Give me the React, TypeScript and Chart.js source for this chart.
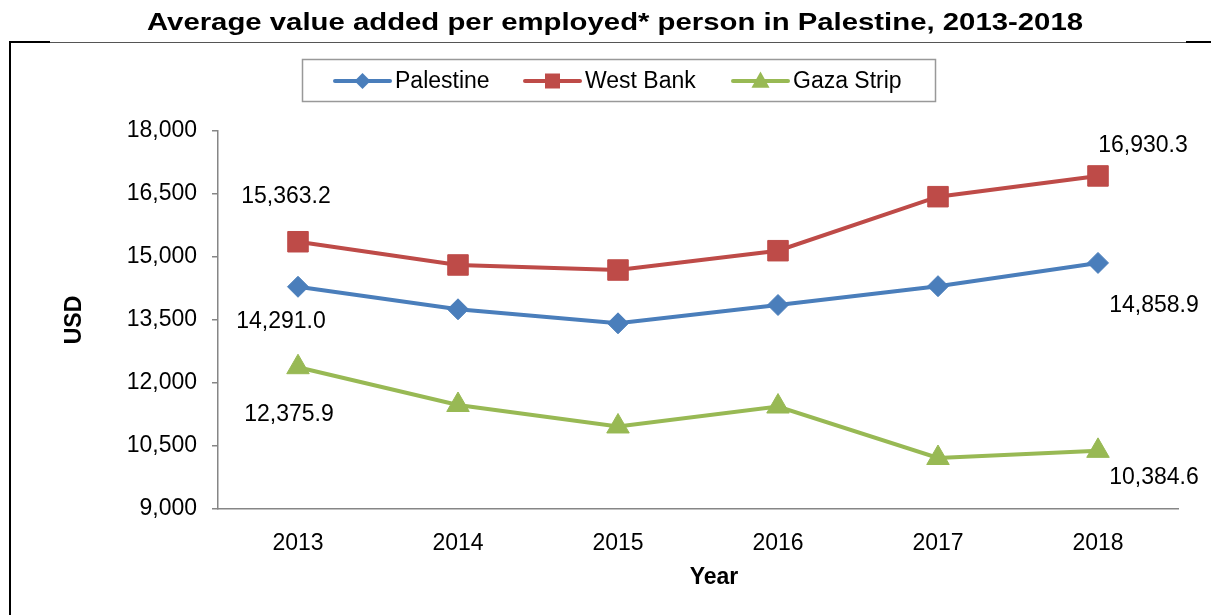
import React, { useEffect, useRef } from 'react';
import { Chart, registerables } from 'chart.js';

Chart.register(...registerables);

const years = ['2013', '2014', '2015', '2016', '2017', '2018'];
const palestine = [14291.0, 13755, 13421, 13857, 14305, 14858.9];
const westBank = [15363.2, 14810, 14690, 15150, 16436, 16930.3];
const gazaStrip = [12375.9, 11476, 10965, 11440, 10214, 10384.6];
const seriesNames = ['Palestine', 'West Bank', 'Gaza Strip'];
const seriesColors = ['#4A7EBB', '#BE4B48', '#98B954'];
const pointStyles = ['rectRot', 'rect', 'triangle'];
const pointRadii = [10.5, 14.5, 13];
const yMin = 9000;
const yMax = 18000;
const yStep = 1500;
const titleText = 'Average value added per employed* person in Palestine, 2013-2018';
const yTitle = 'USD';
const xTitle = 'Year';

const FONT = '"Liberation Sans", Arial, Helvetica, sans-serif';

// label offsets (pixels) relative to the point: [datasetIndex, pointIndex, dx, dy]
const labelOffsets: [number, number, number, number][] = [
  [0, 0, -17, 35],
  [0, 5, 56, 43],
  [1, 0, -12, -45],
  [1, 5, 45, -30],
  [2, 0, -9, 47],
  [2, 5, 56, 27],
];

function fmt(v: number, decimals: number) {
  return v.toLocaleString('en-US', { minimumFractionDigits: decimals, maximumFractionDigits: decimals });
}

function drawMarker(ctx: CanvasRenderingContext2D, style: string, x: number, y: number, r: number, color: string) {
  ctx.fillStyle = color;
  ctx.beginPath();
  if (style === 'rectRot') {
    ctx.moveTo(x - r, y);
    ctx.lineTo(x, y - r);
    ctx.lineTo(x + r, y);
    ctx.lineTo(x, y + r);
  } else if (style === 'rect') {
    ctx.rect(x - r, y - r, 2 * r, 2 * r);
  } else {
    ctx.moveTo(x, y - r);
    ctx.lineTo(x + r * 0.95, y + r * 0.7);
    ctx.lineTo(x - r * 0.95, y + r * 0.7);
  }
  ctx.closePath();
  ctx.fill();
}

const decorPlugin = {
  id: 'decor',
  afterDraw(chart: any) {
    const ctx: CanvasRenderingContext2D = chart.ctx;
    ctx.save();
    // outer frame fragments
    ctx.strokeStyle = '#000';
    ctx.lineWidth = 2;
    ctx.beginPath();
    ctx.moveTo(10, 615);
    ctx.lineTo(10, 42);
    ctx.lineTo(50, 42);
    ctx.stroke();
    ctx.beginPath();
    ctx.moveTo(1186, 42);
    ctx.lineTo(1211, 42);
    ctx.stroke();
    ctx.strokeStyle = '#555';
    ctx.lineWidth = 1;
    ctx.beginPath();
    ctx.moveTo(50, 42.5);
    ctx.lineTo(1186, 42.5);
    ctx.stroke();

    // title (horizontally stretched as in the original)
    ctx.fillStyle = '#000';
    ctx.font = `bold 24px ${FONT}`;
    ctx.textAlign = 'center';
    ctx.textBaseline = 'middle';
    const tw = ctx.measureText(titleText).width;
    const sx = 936 / tw;
    ctx.save();
    ctx.translate(615, 23);
    ctx.scale(sx, 1);
    ctx.fillText(titleText, 0, 0);
    ctx.restore();

    // axis titles
    ctx.font = `bold 23px ${FONT}`;
    ctx.fillText(xTitle, 714, 578);
    ctx.save();
    ctx.translate(75, 320);
    ctx.rotate(-Math.PI / 2);
    ctx.fillText(yTitle, 0, 0);
    ctx.restore();

    // legend box
    ctx.strokeStyle = '#999';
    ctx.lineWidth = 1.5;
    ctx.strokeRect(302.5, 59.5, 633, 42);
    const legendX = [335, 525, 733];
    const ly = 81;
    ctx.font = `23px ${FONT}`;
    ctx.textAlign = 'left';
    for (let i = 0; i < seriesNames.length; i++) {
      const x0 = legendX[i];
      ctx.strokeStyle = seriesColors[i];
      ctx.lineWidth = 4;
      ctx.lineCap = 'round';
      ctx.beginPath();
      ctx.moveTo(x0, ly);
      ctx.lineTo(x0 + 55, ly);
      ctx.stroke();
      const r = i === 0 ? 8 : i === 1 ? 7.5 : 9.5;
      drawMarker(ctx, pointStyles[i], x0 + 27.5, ly, r, seriesColors[i]);
      ctx.fillStyle = '#000';
      ctx.fillText(seriesNames[i], x0 + 60, ly + 1);
    }

    // data labels
    ctx.font = `23px ${FONT}`;
    ctx.textAlign = 'center';
    ctx.fillStyle = '#000';
    for (const [di, pi, dx, dy] of labelOffsets) {
      const meta = chart.getDatasetMeta(di);
      const pt = meta.data[pi];
      const v = chart.data.datasets[di].data[pi] as number;
      ctx.fillText(fmt(v, 1), pt.x + dx, pt.y + dy);
    }
    ctx.restore();
  },
};

export default function App() {
  const ref = useRef<HTMLCanvasElement | null>(null);
  useEffect(() => {
    if (!ref.current) return;
    const seriesData = [palestine, westBank, gazaStrip];
    const chart = new Chart(ref.current, {
      type: 'line',
      data: {
        labels: years,
        datasets: seriesData.map((d, i) => ({
          label: seriesNames[i],
          data: d,
          borderColor: seriesColors[i],
          backgroundColor: seriesColors[i],
          pointBackgroundColor: seriesColors[i],
          pointBorderColor: seriesColors[i],
          pointBorderWidth: 1,
          pointStyle: pointStyles[i] as any,
          pointRadius: pointRadii[i],
          borderWidth: 4,
          tension: 0,
          fill: false,
        })),
      },
      options: {
        responsive: false,
        animation: false,
        devicePixelRatio: 1,
        layout: { padding: { left: 0, top: 131, right: 33, bottom: 0 } },
        plugins: {
          legend: { display: false },
          title: { display: false },
          tooltip: { enabled: false },
        },
        scales: {
          x: {
            type: 'category',
            offset: true,
            grid: { display: false, drawTicks: false },
            border: { display: true, color: '#868686', width: 1.5 },
            ticks: { color: '#000', font: { family: FONT, size: 23 }, padding: 21 },
            afterFit: (s: any) => { s.height = 106; },
          },
          y: {
            min: yMin,
            max: yMax,
            grid: { display: true, drawOnChartArea: false, drawTicks: true, tickLength: 6, color: '#868686', lineWidth: 1.5 },
            border: { display: true, color: '#868686', width: 1.5 },
            ticks: {
              stepSize: yStep,
              color: '#000',
              font: { family: FONT, size: 23 },
              padding: 15,
              callback: (v: any) => fmt(Number(v), 0),
            },
            afterFit: (s: any) => { s.width = 218; },
          },
        },
      },
      plugins: [decorPlugin],
    });
    return () => chart.destroy();
  }, []);
  return (
    <div style={{ position: 'fixed', left: 0, top: 0, width: 1211, height: 615, background: '#fff' }}>
      <canvas ref={ref} width={1211} height={615} />
    </div>
  );
}
